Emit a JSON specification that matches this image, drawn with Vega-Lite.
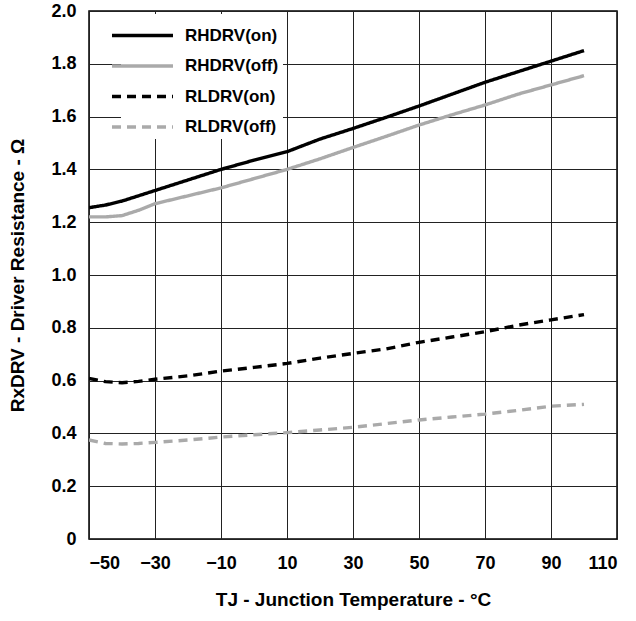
{
  "$schema": "https://vega.github.io/schema/vega-lite/v6.json",
  "autosize": {"type": "none"},
  "width": 528,
  "height": 528,
  "padding": {"left": 89, "top": 11, "right": 19, "bottom": 82},
  "background": "white",
  "config": {
    "font": "Liberation Sans",
    "view": {"stroke": "black", "strokeWidth": 1.5},
    "axis": {
      "labelFont": "Liberation Sans", "labelFontWeight": "bold", "labelFontSize": 18, "labelColor": "black",
      "titleFont": "Liberation Sans", "titleFontWeight": "bold", "titleFontSize": 19, "titleColor": "black",
      "grid": true, "gridColor": "#222", "gridWidth": 1, "gridOpacity": 1,
      "domain": false, "ticks": false
    }
  },
  "data": {"values": [
    {"T": -50, "HON": 1.255, "HOFF": 1.22, "LON": 0.608, "LOFF": 0.375},
    {"T": -45, "HON": 1.265, "HOFF": 1.22, "LON": 0.596, "LOFF": 0.362},
    {"T": -40, "HON": 1.28, "HOFF": 1.225, "LON": 0.592, "LOFF": 0.36},
    {"T": -35, "HON": 1.3, "HOFF": 1.245, "LON": 0.597, "LOFF": 0.362},
    {"T": -30, "HON": 1.32, "HOFF": 1.27, "LON": 0.605, "LOFF": 0.366},
    {"T": -20, "HON": 1.36, "HOFF": 1.3, "LON": 0.618, "LOFF": 0.375},
    {"T": -10, "HON": 1.4, "HOFF": 1.33, "LON": 0.636, "LOFF": 0.386},
    {"T": 0, "HON": 1.435, "HOFF": 1.365, "LON": 0.65, "LOFF": 0.395},
    {"T": 10, "HON": 1.467, "HOFF": 1.4, "LON": 0.665, "LOFF": 0.403},
    {"T": 20, "HON": 1.515, "HOFF": 1.44, "LON": 0.685, "LOFF": 0.413},
    {"T": 30, "HON": 1.555, "HOFF": 1.483, "LON": 0.703, "LOFF": 0.423},
    {"T": 40, "HON": 1.597, "HOFF": 1.525, "LON": 0.72, "LOFF": 0.437},
    {"T": 50, "HON": 1.64, "HOFF": 1.568, "LON": 0.745, "LOFF": 0.451},
    {"T": 60, "HON": 1.685, "HOFF": 1.607, "LON": 0.765, "LOFF": 0.462},
    {"T": 70, "HON": 1.73, "HOFF": 1.644, "LON": 0.785, "LOFF": 0.473},
    {"T": 80, "HON": 1.77, "HOFF": 1.685, "LON": 0.81, "LOFF": 0.487},
    {"T": 90, "HON": 1.81, "HOFF": 1.72, "LON": 0.83, "LOFF": 0.503},
    {"T": 100, "HON": 1.85, "HOFF": 1.755, "LON": 0.85, "LOFF": 0.51}
  ]},
  "transform": [{"fold": ["HON", "HOFF", "LON", "LOFF"], "as": ["series", "R"]}],
  "mark": {"type": "line", "strokeWidth": 3.4, "clip": true},
  "encoding": {
    "x": {
      "field": "T", "type": "quantitative",
      "scale": {"domain": [-50, 110], "nice": false, "zero": false},
      "axis": {"values": [-50, -30, -10, 10, 30, 50, 70, 90, 110], "labelPadding": 15, "titlePadding": 18,
               "title": "TJ - Junction Temperature - °C"}
    },
    "y": {
      "field": "R", "type": "quantitative",
      "scale": {"domain": [0, 2], "nice": false},
      "axis": {"values": [0, 0.2, 0.4, 0.6, 0.8, 1.0, 1.2, 1.4, 1.6, 1.8, 2.0], "labelPadding": 13, "titlePadding": 23,
               "labelExpr": "datum.value == 0 ? '0' : format(datum.value, '.1f')",
               "title": "RxDRV - Driver Resistance - Ω"}
    },
    "color": {
      "field": "series", "type": "nominal",
      "scale": {"domain": ["HON", "HOFF", "LON", "LOFF"], "range": ["black", "#aaaaaa", "black", "#aaaaaa"]},
      "legend": {
        "title": null, "orient": "none", "legendX": 32, "legendY": 3,
        "fillColor": "white", "padding": 4,
        "symbolType": "M-2,0H2", "symbolSize": 930, "symbolStrokeWidth": 3.6,
        "labelFont": "Liberation Sans", "labelFontWeight": "bold", "labelFontSize": 17, "labelColor": "black",
        "labelOffset": 25, "rowPadding": 4.5,
        "labelExpr": "{'HON':'RHDRV(on)','HOFF':'RHDRV(off)','LON':'RLDRV(on)','LOFF':'RLDRV(off)'}[datum.label]"
      }
    },
    "strokeDash": {
      "field": "series", "type": "nominal",
      "scale": {"domain": ["HON", "HOFF", "LON", "LOFF"], "range": [[1, 0], [1, 0], [9, 6], [9, 6]]},
      "legend": {
        "title": null, "orient": "none", "legendX": 32, "legendY": 3,
        "fillColor": "white", "padding": 4,
        "symbolType": "M-2,0H2", "symbolSize": 930, "symbolStrokeWidth": 3.6,
        "labelFont": "Liberation Sans", "labelFontWeight": "bold", "labelFontSize": 17, "labelColor": "black",
        "labelOffset": 25, "rowPadding": 4.5,
        "labelExpr": "{'HON':'RHDRV(on)','HOFF':'RHDRV(off)','LON':'RLDRV(on)','LOFF':'RLDRV(off)'}[datum.label]"
      }
    }
  }
}
